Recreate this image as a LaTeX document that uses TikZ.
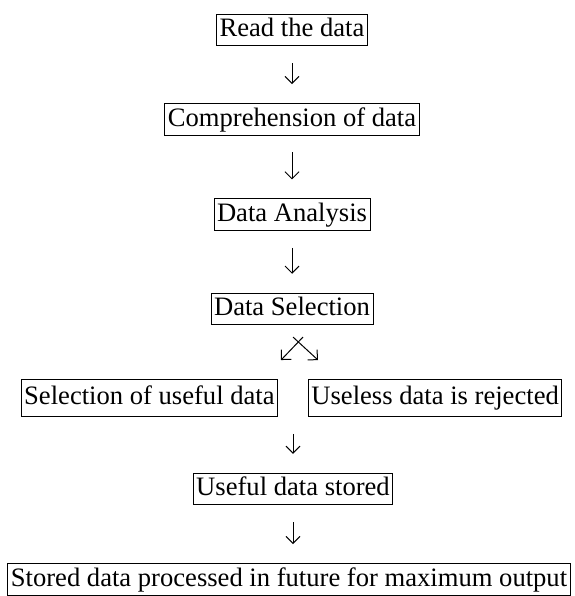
\documentclass[tikz,border=0pt]{standalone}
\usepackage{fontspec}
\setmainfont{Liberation Serif}
\usepackage{tikz}
\usetikzlibrary{arrows.meta, positioning, calc}

\begin{document}
\begin{tikzpicture}[
        x=1pt, y=1pt,
        box/.style={draw, line width=0.8pt, inner xsep=3pt, inner ysep=3pt,
                    text height=19.5pt, text depth=6pt,
                    font=\fontsize{26.6}{30}\selectfont},
        arr/.style={-{Straight Barb[length=7pt, width=14pt]}, line width=1pt},
        down/.style={arr, shorten <=17pt, shorten >=19pt},
        node distance=58pt
    ]
        \useasboundingbox (0,0) rectangle (574,-596);

        \node[box] (read) at (292,-30) {Read the data};
        \node[box, below=57pt of read] (comp) {Comprehension of data};
        \node[box, below=63pt of comp] (ana) {Data Analysis};
        \node[box, below=62pt of ana] (sel) {Data Selection};

        % the two branches
        \node[box, anchor=north east, minimum height=37pt] (usel) at ([shift={(-14,-54)}]sel.south) {Selection of useful data};
        \node[box, anchor=north west, minimum height=37pt] (rej) at ([shift={(16,-54)}]sel.south) {Useless data is rejected};
        \coordinate (row) at ($(usel.south east)!0.5!(rej.south west)$);

        \node[box, below=56pt of row] (stored) {Useful data stored};
        \node[box, below=58pt of stored, xshift=-4pt] (fut) {Stored data processed in future for maximum output};

        \draw[down] (read) -- (comp);
        \draw[down] (comp) -- (ana);
        \draw[down] (ana) -- (sel);
        \draw[down] (row) -- (stored);
        \draw[down] (stored.south) -- (stored.south |- fut.north);

        \coordinate (tipL) at ([shift={(-11,-35)}]sel.south);
        \coordinate (tipR) at ([shift={(26,-35)}]sel.south);
        \draw[arr] ([shift={(11,-12)}]sel.south) -- (tipL);
        \draw[arr] ([shift={(1,-12)}]sel.south) -- (tipR);
    \end{tikzpicture}
\end{document}
